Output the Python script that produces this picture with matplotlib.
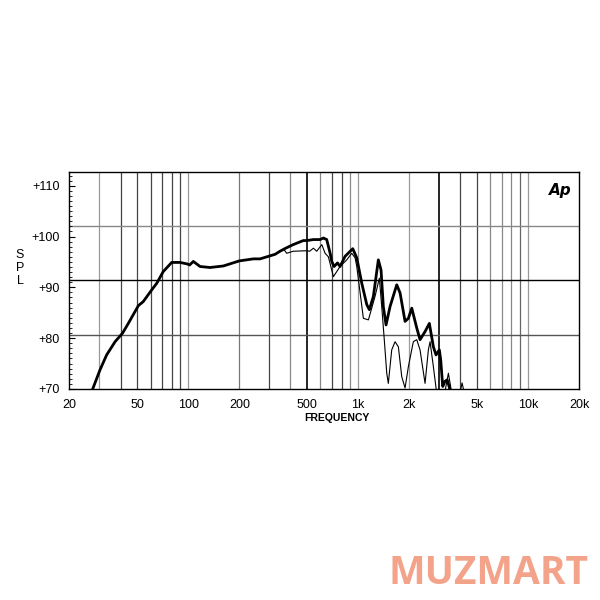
import numpy as np
import matplotlib
matplotlib.use('Agg')
import matplotlib.pyplot as plt
from matplotlib.ticker import FixedLocator, NullFormatter, MultipleLocator

plt.rcParams['font.family'] = ['Liberation Sans', 'DejaVu Sans']

# curva principal (gruesa)
freq_thick = [27.4, 30.2, 33.1, 37.1, 41.1, 44.4, 50.9, 54.4, 61.0, 65.3, 71.3, 80.0, 89.5,
              98.8, 102, 107.2, 117.4, 134.4, 161, 200, 242, 265, 325, 347, 375, 415, 476, 499,
              546, 598, 625, 654, 685, 700, 723, 757, 784, 839, 931, 983, 1052, 1126,
              1166, 1231, 1317, 1366, 1409, 1462, 1543, 1690, 1768, 1892, 1979, 2072, 2217,
              2318, 2481, 2630, 2777, 2879, 3011, 3068, 3153, 3250, 3350, 3450, 3550]
spl_thick = [70.0, 73.7, 76.7, 79.3, 81.0, 82.9, 86.4, 87.2, 89.5, 90.8, 93.1, 94.9, 94.9,
             94.6, 94.4, 95.1, 94.1, 93.9, 94.2, 95.2, 95.6, 95.6, 96.5, 97.1, 97.7, 98.4, 99.2, 99.2,
             99.4, 99.4, 99.7, 99.4, 96.7, 95.1, 94.1, 94.8, 94.1, 96.1, 97.6, 95.8, 90.8, 86.6,
             85.6, 88.2, 95.4, 93.4, 86.2, 82.6, 86.2, 90.5, 88.9, 83.3, 83.9, 85.9, 82.0,
             79.7, 81.3, 82.9, 78.3, 76.7, 77.7, 75.7, 70.5, 71.5, 71.8, 70.3, 68.0]

# curva secundaria (fina)
freq_thin = [27.4, 30.2, 33.1, 37.1, 41.1, 44.4, 50.9, 54.4, 61.0, 65.3, 71.3, 80.0, 89.5,
             98.8, 102, 107.2, 117.4, 134.4, 161, 200, 242, 265, 325, 347, 365, 380, 415, 499,
             519, 546, 571, 612, 640, 669, 716, 784, 858, 918, 961, 983, 1075, 1151, 1259,
             1335, 1379, 1423, 1476, 1508, 1579, 1652, 1728, 1809, 1892, 1979, 2116, 2217,
             2318, 2481, 2595, 2655, 2777, 2879, 3000, 3250, 3404, 3550, 3800, 4098, 4300]
spl_thin = [70.0, 73.7, 76.7, 79.3, 81.0, 82.9, 86.4, 87.2, 89.5, 90.8, 93.1, 94.9, 94.9,
            94.6, 94.4, 95.1, 94.1, 93.9, 94.2, 95.2, 95.6, 95.6, 96.5, 97.1, 97.5, 96.7, 97.1, 97.2,
            97.1, 97.7, 97.1, 98.4, 96.7, 96.0, 92.1, 94.1, 95.4, 96.7, 95.8, 94.1, 83.9, 83.6, 88.2,
            91.8, 86.2, 80.3, 73.1, 71.1, 77.7, 79.3, 78.3, 72.4, 70.2, 74.4, 79.3, 79.7,
            77.7, 71.1, 77.7, 79.3, 74.4, 70.2, 66.0, 69.5, 73.1, 69.5, 66.0, 71.2, 68.0]

tick_freqs = [20, 50, 100, 200, 500, 1000, 2000, 5000, 10000, 20000]
tick_labels = ['20', '50', '100', '200', '500', '1k', '2k', '5k', '10k', '20k']
spl_ticks = [70, 80, 90, 100, 110]
spl_labels = ['+70', '+80', '+90', '+100', '+110']

grid_freqs = [30, 40, 50, 60, 70, 80, 90, 100, 200, 300, 400, 500, 600, 700, 800, 900,
              1000, 2000, 3000, 4000, 5000, 6000, 7000, 8000, 9000, 10000]
grid_tone = ['#999999', '#444444', '#444444', '#444444', '#444444', '#444444', '#444444', '#999999',
             '#777777', '#444444', '#888888', '#000000', '#888888', '#444444', '#444444', '#888888',
             '#999999', '#999999', '#000000', '#444444', '#444444', '#888888', '#888888', '#888888',
             '#666666', '#999999']

fig = plt.figure(figsize=(6, 6), dpi=100)
ax = fig.add_axes([0.1158, 0.3517, 0.8492, 0.3617])
ymin, ymax = 70, 112.7
ax.set_xscale('log')
ax.set_xlim(20, 20000)
ax.set_ylim(ymin, ymax)

for f, c in zip(grid_freqs, grid_tone):
    ax.axvline(f, color=c, lw=1.2 if c == '#000000' else 0.9, zorder=1)
for k, c in zip([1, 2, 3], ['#555555', '#000000', '#888888']):
    ax.axhline(ymin + k * (ymax - ymin) / 4, color=c, lw=1.0, zorder=1)

ax.plot(freq_thin, spl_thin, color='black', lw=0.8, zorder=3)
ax.plot(freq_thick, spl_thick, color='black', lw=2.0, zorder=4)

ax.xaxis.set_major_locator(FixedLocator(tick_freqs))
ax.set_xticklabels(tick_labels)
ax.xaxis.set_minor_locator(FixedLocator([]))
ax.xaxis.set_minor_formatter(NullFormatter())
ax.tick_params(axis='x', which='both', length=0, pad=7, labelsize=9)
ax.set_yticks(spl_ticks)
ax.set_yticklabels(spl_labels)
ax.yaxis.set_minor_locator(MultipleLocator(1))
ax.tick_params(axis='y', which='major', direction='in', length=4, width=0.8, pad=7, labelsize=9)
ax.tick_params(axis='y', which='minor', direction='in', length=2.5, width=0.6)
for s in ax.spines.values():
    s.set_linewidth(1.0)

fig.text(337 / 600, 1 - 418 / 600, 'FREQUENCY', ha='center', va='center', fontsize=7.5, fontweight='bold')
fig.text(20 / 600, 1 - 268 / 600, 'S\nP\nL', ha='center', va='center', fontsize=9, linespacing=1.15)
ax.text(0.985, 0.95, 'Ap', transform=ax.transAxes, ha='right', va='top', fontsize=11,
        fontweight='bold', fontstyle='italic', family=['DejaVu Sans'])
fig.text(489 / 600, 1 - 573 / 600, 'MUZMART', ha='center', va='center', fontsize=28,
         fontweight='bold', color='#F4A38B', family=['Open Sans', 'DejaVu Sans'])

fig.savefig('out.png', dpi=100)
